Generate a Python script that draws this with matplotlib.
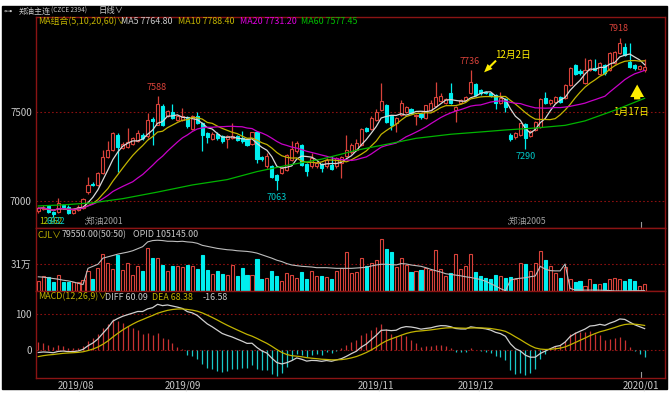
import matplotlib
matplotlib.use("Agg")
import matplotlib.pyplot as plt
import matplotlib.transforms as mtransforms
from matplotlib.patches import Rectangle
import numpy as np
import pandas as pd

plt.rcParams['font.family'] = ['Noto Sans CJK SC', 'DejaVu Sans']

# daily bars, late Jul 2019 .. 17 Jan 2020 (continuous contract)
opens = [6945, 6955, 6974, 6940, 6940, 6977, 6968, 6930, 6949, 6959,
         7050, 7098, 7090, 7156, 7246, 7288, 7372, 7297, 7303, 7321,
         7335, 7372, 7363, 7461, 7429, 7536, 7476, 7498, 7457, 7457,
         7470, 7404, 7476, 7438, 7382, 7348, 7378, 7363, 7348, 7353,
         7363, 7353, 7348, 7321, 7385, 7246, 7194, 7194, 7147, 7156,
         7175, 7231, 7278, 7316, 7207, 7194, 7194, 7207, 7194, 7203,
         7194, 7212, 7250, 7273, 7288, 7315, 7408, 7403, 7455, 7511,
         7539, 7478, 7440, 7483, 7502, 7515, 7478, 7487, 7464, 7511,
         7534, 7564, 7552, 7605, 7511, 7552, 7567, 7609, 7657, 7624,
         7614, 7605, 7596, 7552, 7571, 7371, 7358, 7371, 7433, 7365,
         7399, 7418, 7577, 7549, 7558, 7586, 7577, 7652, 7764, 7732,
         7661, 7736, 7749, 7714, 7764, 7736, 7773, 7830, 7863, 7783,
         7764, 7740, 7736]
highs = [6968, 6975, 6978, 6945, 7019, 6985, 6975, 6955, 6975, 7015,
         7137, 7105, 7160, 7288, 7335, 7385, 7380, 7330, 7410, 7360,
         7400, 7380, 7494, 7470, 7588, 7545, 7510, 7545, 7485, 7523,
         7478, 7485, 7500, 7445, 7390, 7385, 7385, 7370, 7372, 7438,
         7370, 7391, 7355, 7390, 7390, 7252, 7269, 7200, 7150, 7190,
         7265, 7335, 7338, 7320, 7212, 7269, 7220, 7212, 7240, 7250,
         7248, 7252, 7372, 7325, 7346, 7408, 7415, 7475, 7517, 7661,
         7545, 7485, 7470, 7567, 7535, 7522, 7490, 7493, 7542, 7567,
         7667, 7609, 7578, 7661, 7532, 7573, 7592, 7736, 7663, 7630,
         7620, 7612, 7600, 7614, 7578, 7380, 7385, 7440, 7436, 7400,
         7450, 7577, 7614, 7572, 7588, 7592, 7658, 7755, 7770, 7740,
         7802, 7798, 7796, 7780, 7770, 7839, 7845, 7918, 7886, 7886,
         7770, 7763, 7796]
lows = [6935, 6948, 6935, 6912, 6932, 6955, 6928, 6925, 6945, 6955,
        7040, 7082, 7085, 7150, 7240, 7280, 7165, 7290, 7297, 7315,
        7330, 7345, 7355, 7316, 7425, 7420, 7470, 7460, 7450, 7450,
        7410, 7400, 7430, 7278, 7325, 7340, 7345, 7325, 7297, 7348,
        7338, 7328, 7310, 7315, 7216, 7225, 7188, 7128, 7063, 7150,
        7170, 7225, 7270, 7198, 7141, 7188, 7188, 7165, 7188, 7175,
        7188, 7128, 7245, 7265, 7280, 7310, 7385, 7398, 7450, 7505,
        7440, 7399, 7389, 7478, 7495, 7488, 7427, 7462, 7458, 7505,
        7528, 7558, 7546, 7546, 7446, 7546, 7560, 7603, 7590, 7598,
        7600, 7585, 7515, 7546, 7502, 7335, 7350, 7365, 7290, 7358,
        7395, 7412, 7545, 7542, 7552, 7552, 7572, 7646, 7708, 7710,
        7655, 7730, 7730, 7708, 7710, 7730, 7768, 7825, 7815, 7745,
        7738, 7735, 7727]
closes = [6958, 6963, 6940, 6928, 6987, 6964, 6934, 6949, 6968, 7009,
          7090, 7090, 7156, 7246, 7288, 7382, 7303, 7321, 7329, 7353,
          7382, 7353, 7457, 7447, 7545, 7429, 7504, 7466, 7476, 7476,
          7419, 7476, 7438, 7372, 7357, 7378, 7353, 7335, 7367, 7367,
          7344, 7335, 7316, 7385, 7235, 7235, 7254, 7133, 7118, 7184,
          7259, 7291, 7325, 7203, 7171, 7241, 7212, 7188, 7231, 7180,
          7241, 7246, 7288, 7316, 7324, 7403, 7395, 7468, 7502, 7564,
          7446, 7427, 7464, 7549, 7526, 7493, 7483, 7470, 7539, 7549,
          7586, 7590, 7571, 7552, 7526, 7567, 7586, 7670, 7596, 7605,
          7605, 7590, 7552, 7577, 7526, 7346, 7380, 7436, 7352, 7395,
          7446, 7571, 7552, 7567, 7582, 7558, 7652, 7749, 7714, 7717,
          7736, 7792, 7736, 7773, 7717, 7830, 7839, 7890, 7820, 7751,
          7745, 7758, 7755]
volumes = [117900, 168900, 157200, 110000, 180700, 110000, 110000, 102200, 102200, 129700,
           235700, 141400, 267200, 432200, 326100, 255400, 416500, 247500, 326100, 188600,
           294700, 227900, 495100, 377200, 385000, 306500, 235700, 286800, 294700, 275000,
           306500, 286800, 259300, 416500, 247500, 196500, 235700, 196500, 188600, 306500,
           168900, 267200, 188600, 188600, 373300, 141400, 149300, 227900, 176800, 117900,
           208200, 188600, 149300, 216100, 141400, 227900, 168900, 176800, 157200, 137500,
           235700, 270000, 456300, 210600, 222300, 386100, 288600, 327600, 354900, 600600,
           483600, 452400, 276900, 378300, 300300, 218400, 230100, 237900, 269100, 237900,
           471900, 249600, 171600, 210600, 425100, 257400, 288600, 432900, 222300, 171600,
           152100, 140400, 191100, 172700, 153000, 160900, 133400, 329600, 317800, 231500,
           329600, 467000, 357100, 290400, 211900, 153000, 278600, 133400, 102000, 113800,
           54900, 133400, 86300, 86300, 94200, 133400, 145200, 137300, 113800, 133400,
           121600, 62800, 79550]
open_interest = [159700, 158300, 155700, 153000, 150300, 146300, 143700, 139700, 134300, 129000,
                 193000, 201000, 209000, 233000, 238300, 243600, 249000, 253000, 257000, 262300,
                 270300, 278300, 297000, 302300, 303600, 302300, 299600, 299600, 298300, 299600,
                 297000, 295600, 291600, 283600, 279600, 275600, 271600, 269000, 266300, 265000,
                 262300, 261000, 259600, 257000, 253000, 246300, 239600, 233000, 225000, 219600,
                 211600, 206300, 203600, 201000, 199600, 198300, 195600, 195600, 195600, 194300,
                 193000, 193000, 193000, 193000, 194300, 195600, 197000, 202300, 206300, 209000,
                 209000, 207600, 206300, 211600, 210300, 206300, 203600, 201000, 195600, 189000,
                 183600, 178300, 171600, 169000, 166300, 163600, 159700, 157000, 153000, 149000,
                 142300, 133000, 123700, 113000, 105000, 146300, 152000, 154000, 156000, 160000,
                 163000, 201000, 190000, 184000, 183000, 183000, 210000, 114000, 108000, 107400,
                 107400, 107400, 107400, 107000, 106500, 105500, 104000, 104000, 104000, 104500,
                 104800, 105000, 105145]

ma60_idx = [0, 5, 11, 17, 24, 31, 38, 44, 50, 57, 64, 70, 76, 83, 90, 94, 100, 106, 110, 116, 122]
ma60_val = [6972, 6978, 6990, 7013, 7050, 7090, 7120, 7165, 7200, 7235, 7285, 7318, 7352,
            7375, 7390, 7399, 7410, 7425, 7450, 7510, 7577]

# EMA state carried in from before the window
ema12_start = 6950
ema26_start = 6957
dea_start = -20

date_idx = [7.5, 29, 68, 88, 121.3]
date_labels = ['2019/08', '2019/09', '2019/11', '2019/12', '2020/01']
roll_idx = [10, 95]
roll_names = ['郑油2001', '郑油2005']
high_marks = [24, 87, 117]
low_marks = [48, 98]

RED = '#d8423a'
CYAN = '#00eeee'
FRAME = '#8a1414'
GRID = '#8a1010'
GREY = '#c8c8c8'
OLIVE = '#c2b400'

W, H = 670, 395
fig = plt.figure(figsize=(W / 100, H / 100), dpi=100, facecolor='white')
fig.patches.append(Rectangle((2 / W, 1 - 389 / H), 665 / W, 383 / H,
                             transform=fig.transFigure, color='black', zorder=-5))


def px_axes(top, bottom, left=36, right=665):
    return fig.add_axes([left / W, 1 - bottom / H, (right - left) / W, (bottom - top) / H])


def ftext(x, y, s, color=GREY, size=6.4, **kw):
    fig.text(x / W, 1 - y / H, s, color=color, fontsize=size, va='center', **kw)


o = np.array(opens, float)
h = np.array(highs, float)
l = np.array(lows, float)
c = np.array(closes, float)
n = len(c)
x = np.arange(n)
up = c >= o
cols = np.where(up, RED, CYAN)

ax_p = px_axes(17, 228)
ax_v = px_axes(228, 291)
ax_m = px_axes(291, 378)
for ax in (ax_p, ax_v, ax_m):
    ax.set_facecolor('black')
    ax.set_xlim(-0.46, 126.1)
    for sp in ax.spines.values():
        sp.set_color(FRAME)
        sp.set_linewidth(1.0)
    ax.tick_params(axis='y', length=0, pad=3, labelsize=7, labelcolor=GREY)
    ax.tick_params(axis='x', length=0, labelbottom=False)

# price panel
ax_p.set_ylim(6848, 8034)
ax_p.set_yticks([7000, 7500])
for lv in (7000, 7500):
    ax_p.axhline(lv, color=GRID, ls=(0, (1.5, 2)), lw=0.8, zorder=1)

body_lo = np.minimum(o, c)
body_hi = np.maximum(o, c)
ax_p.vlines(x, l, body_lo, colors=cols, lw=0.9, zorder=3)
ax_p.vlines(x, body_hi, h, colors=cols, lw=0.9, zorder=3)
ax_p.bar(x, np.maximum(body_hi - body_lo, 2), bottom=body_lo, width=0.62,
         facecolor=np.where(up, 'black', CYAN), edgecolor=cols, lw=0.8, zorder=4)

ser = pd.Series(c)
ma5 = ser.rolling(5, min_periods=1).mean()
ma10 = ser.rolling(10, min_periods=1).mean()
ma20 = ser.rolling(20, min_periods=1).mean()
ax_p.plot(x, ma5, color='#d8d8d8', lw=0.9, zorder=5)
ax_p.plot(x, ma10, color=OLIVE, lw=0.9, zorder=5)
ax_p.plot(x, ma20, color='#c800c8', lw=0.9, zorder=5)
ax_p.plot(ma60_idx, ma60_val, color='#00b400', lw=0.9, zorder=5)

for i in high_marks:
    ax_p.annotate(f'{int(h[i])}', (i, h[i]), xytext=(-1, 3), textcoords='offset points',
                  ha='center', va='bottom', color=RED, fontsize=6.5)
for i in low_marks:
    ax_p.annotate(f'{int(l[i])}', (i, l[i]), xytext=(0, -2), textcoords='offset points',
                  ha='center', va='top', color='#00c8c8', fontsize=6.5)

ax_p.annotate('', xy=(89.3, 7712), xytext=(92.5, 7800),
              arrowprops=dict(arrowstyle='simple,head_width=0.5,head_length=0.6,tail_width=0.15',
                              color='#ffee00', lw=0))
ax_p.text(95.5, 7820, '12月2日', color='#ffee00', fontsize=7, ha='center', va='center')
ax_p.annotate('', xy=(120.5, 7670), xytext=(120.5, 7555),
              arrowprops=dict(arrowstyle='simple,head_width=1.0,head_length=0.9,tail_width=0.45',
                              color='#ffee00', lw=0))
ax_p.text(119.2, 7500, '1月17日', color='#ffee00', fontsize=7, ha='center', va='center')

for i, name in zip(roll_idx, roll_names):
    ax_p.text(i - 0.8, 6862, '⁏' + name, color='#a0a0a0', fontsize=6.3, ha='left', va='bottom')
ax_p.text(0.2, 6862, '12362', color='#b8c800', fontsize=6, ha='left', va='bottom')
ax_p.text(1.6, 6858, '6932', color='#00c8c8', fontsize=6, ha='left', va='bottom')

# volume panel
ax_v.set_ylim(0, 730000)
ax_v.set_yticks([310000])
ax_v.set_yticklabels(['31万'])
ax_v.axhline(310000, color=GRID, ls=(0, (1.5, 2)), lw=0.8, zorder=1)
ax_v.bar(x, volumes, width=0.62, facecolor=np.where(up, 'black', CYAN),
         edgecolor=cols, lw=0.8, zorder=3)
ax_oi = ax_v.twinx()
ax_oi.set_ylim(103800, 103800 + 62 * 4000)
ax_oi.set_xlim(-0.46, 126.1)
ax_oi.axis('off')
ax_oi.plot(x, open_interest, color='#bdbdbd', lw=0.8, zorder=4)

# MACD panel
ema12, ema26, dea = ema12_start, ema26_start, dea_start
diff_l, dea_l = [], []
for v in c:
    ema12 = (2 * v + 11 * ema12) / 13
    ema26 = (2 * v + 25 * ema26) / 27
    d = ema12 - ema26
    dea = (2 * d + 8 * dea) / 10
    diff_l.append(d)
    dea_l.append(dea)
diff_a = np.array(diff_l)
dea_a = np.array(dea_l)
hist = 2 * (diff_a - dea_a)

ax_m.set_ylim(-76, 163)
ax_m.set_yticks([0, 100])
for lv in (0, 100):
    ax_m.axhline(lv, color=GRID, ls=(0, (1.5, 2)), lw=0.8, zorder=1)
ax_m.vlines(x, 0, hist, colors=np.where(hist >= 0, '#c83232', '#18c8c8'), lw=0.9, zorder=3)
ax_m.plot(x, diff_a, color='#d0d0d0', lw=0.9, zorder=4)
ax_m.plot(x, dea_a, color=OLIVE, lw=0.9, zorder=4)
ax_m.set_xticks(date_idx)
ax_m.set_xticklabels(date_labels)
ax_m.tick_params(axis='x', labelbottom=True, labelsize=7, labelcolor=GREY, pad=2)
for ax, y0, y1 in ((ax_p, 0, 0.03), (ax_m, 0, 0.07)):
    tr = mtransforms.blended_transform_factory(ax.transData, ax.transAxes)
    ax.plot([date_idx[-1], date_idx[-1]], [y0, y1], color='#9a9a9a', lw=0.8, transform=tr)

# header and legends
ftext(3, 11, '⊶', size=6)
ftext(19, 11, '郑油主连', size=5.8)
ftext(51, 11, '(CZCE 2394)', size=4.6)
ftext(99, 11, '日线∨', size=6)

ftext(38, 22, 'MA组合(5,10,20,60)∨', color=OLIVE)
ftext(121, 22, 'MA5 7764.80')
ftext(178, 22, 'MA10 7788.40', color=OLIVE)
ftext(240, 22, 'MA20 7731.20', color='#e000e0')
ftext(301, 22, 'MA60 7577.45', color='#00c000')

ftext(38, 235, 'CJL∨', color=OLIVE)
ftext(62, 235, '79550.00(50:50)')
ftext(133, 235, 'OPID 105145.00')

ftext(38, 297, 'MACD(12,26,9)∨', color=OLIVE)
ftext(105, 297, 'DIFF 60.09')
ftext(152, 297, 'DEA 68.38', color=OLIVE)
ftext(203, 297, '-16.58')

fig.savefig('out.png', dpi=100, facecolor='white')
